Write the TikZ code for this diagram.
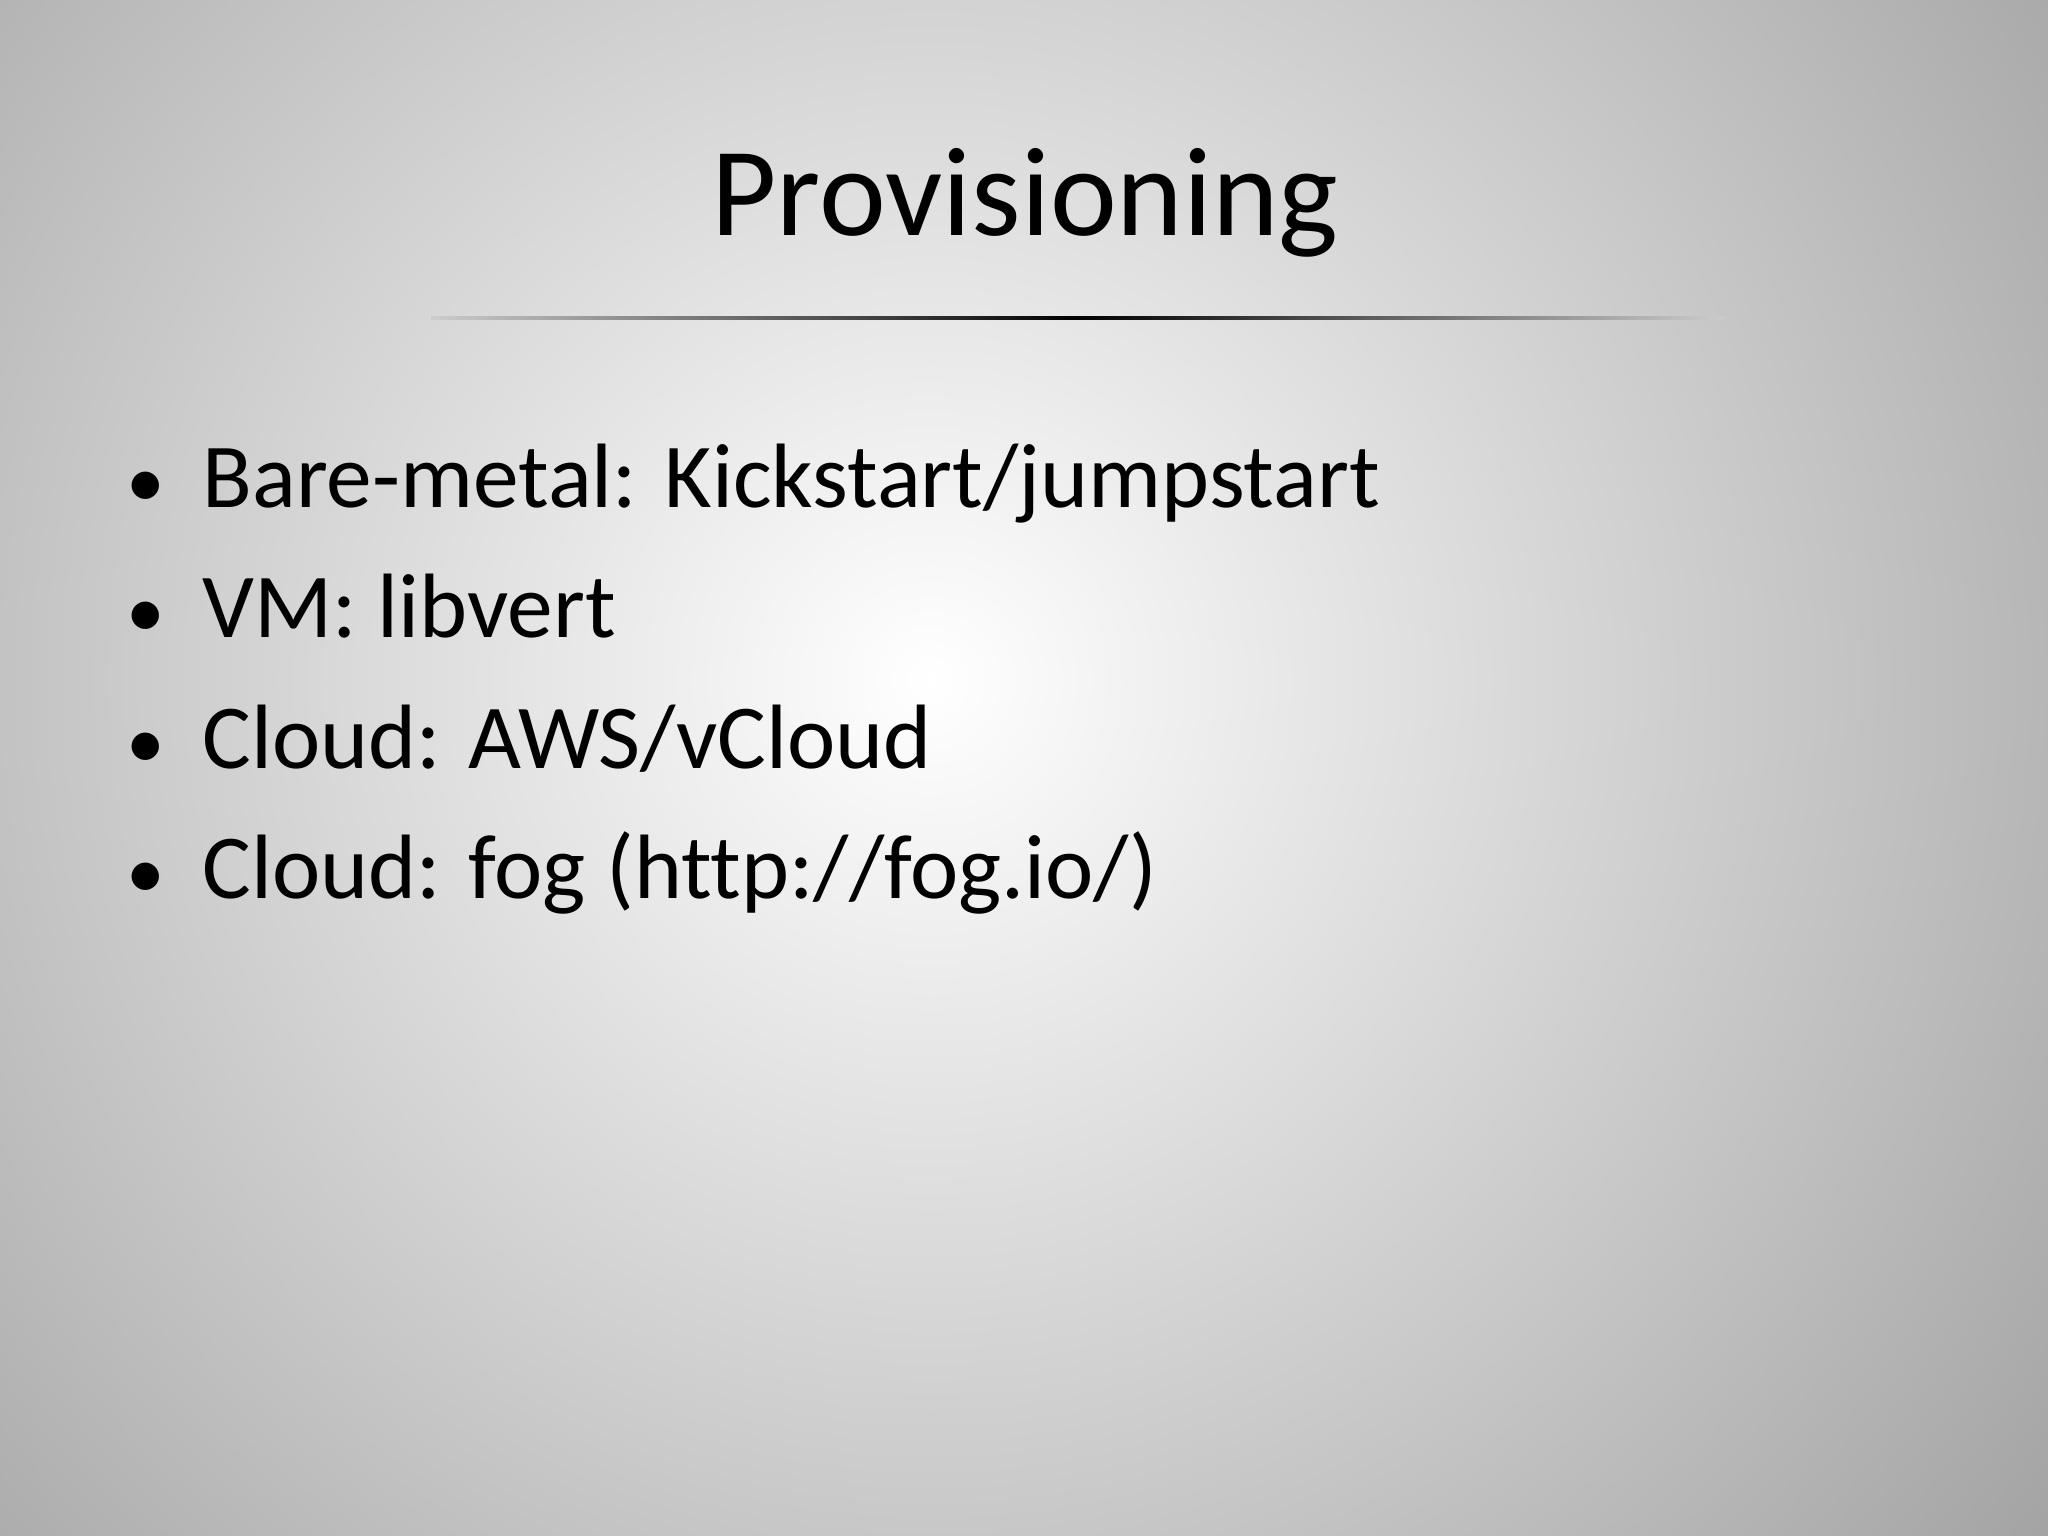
\documentclass[tikz,border=0pt]{standalone}
\usepackage{fontspec}
\setmainfont[Ligatures={NoCommon,NoDiscretionary}]{Carlito}
\begin{document}
\begin{tikzpicture}[x=0.01cm,y=-0.01cm,
  bullet/.style={anchor=base west,inner sep=0pt,font=\fontsize{26}{30}\selectfont,text=black}]
\useasboundingbox (0,0) rectangle (2048,1536);
\begin{scope}
\clip (0,0) rectangle (2048,1536);
\fill[black!37] (0,0) rectangle (2048,1536);
\shade[inner color=white,outer color=black!37] (930,680) circle[radius=1450];
\end{scope}
\node[anchor=base,inner sep=0pt,font=\fontsize{36}{40}\selectfont] (title) at (1025,235) {Provisioning};
\shade[left color=black!20,right color=black!20,middle color=black] (431,316) rectangle (1724,319);
\foreach \t/\y [count=\i] in {{Bare-metal: Kickstart/jumpstart}/507,{VM: libvert}/637,{Cloud: AWS/vCloud}/768,{Cloud: fog (http://fog.io/)}/898}{
  \node[bullet] (b\i) at (202,\y) {\t};
  \node[bullet,font=\fontsize{22}{26}\selectfont] (d\i) at (126,\y) {•};
}
\end{tikzpicture}
\end{document}
